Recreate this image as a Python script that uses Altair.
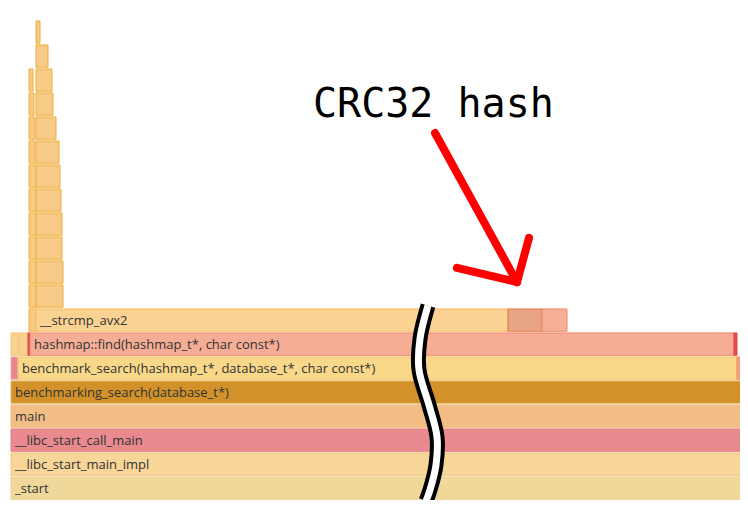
import altair as alt
import pandas as pd

# ---- flame graph frames (x in samples, depth = stack level) ----
frame_depth = [0, 1, 2, 3, 4,
               5, 5, 5,
               6, 6, 6, 6, 6,
               7, 7, 7, 7,
               8, 8, 9, 9, 10, 10, 11, 11, 12, 12, 13, 13, 14, 14, 15, 15, 16, 16, 17, 17,
               18, 19]
frame_start = [0, 0, 0, 0, 0,
               0, 70, 7260,
               0, 80, 170, 190, 7230,
               180, 250, 4970, 5310,
               180, 250, 180, 250, 180, 250, 180, 250, 180, 250, 180, 250, 180, 250, 180, 250, 180, 250, 180, 250,
               250, 250]
frame_end = [7300, 7300, 7300, 7300, 7300,
             70, 7260, 7290,
             70, 170, 190, 7230, 7260,
             250, 4970, 5310, 5560,
             250, 520, 250, 520, 250, 510, 250, 510, 250, 500, 250, 490, 240, 480, 240, 450, 230, 420, 220, 410,
             370, 290]
frame_name = ["_start", "__libc_start_main_impl", "__libc_start_call_main", "main",
              "benchmarking_search(database_t*)",
              "", "benchmark_search(hashmap_t*, database_t*, char const*)", "",
              "", "", "", "hashmap::find(hashmap_t*, char const*)", "",
              "", "__strcmp_avx2", "", "",
              "", "", "", "", "", "", "", "", "", "", "", "", "", "", "", "", "", "", "", "",
              "", ""]
UP_F, UP_S = "#f7cb87", "#f0ae3c"
frame_fill = ["#f0d89b", "#f8d598", "#e88a8e", "#f3bd86", "#d29229",
              "#e8868c", "#f9d88a", "#f3a585",
              "#f8d293", "#f8d293", "#e84b4b", "#f5ad96", "#e84b4b",
              UP_F, "#fad291", "#e9a387", "#f6ae97"] + [UP_F] * 20 + [UP_F, UP_F]
frame_stroke = ["#e9d08c", "#f4c477", "#e57c82", "#f2b47a", "#e0b860",
                "#f3a9a9", "#f2c564", "#e88c6c",
                "#f1c070", "#f1c070", "#e84040", "#ef8466", "#e84040",
                UP_S, "#f6bd66", "#e8773c", "#ee8a66"] + [UP_S] * 20 + [UP_S, UP_S]

frames = pd.DataFrame({
    "depth": frame_depth, "start": frame_start, "end": frame_end,
    "name": frame_name, "fill": frame_fill, "stroke": frame_stroke,
})

# ---- annotations ----
arrow_x = [4240, 5060, 5060]
arrow_y = [15.29, 9.08, 9.08]
arrow_x2 = [5060, 4460, 5180]
arrow_y2 = [9.08, 9.67, 10.92]
arrows = pd.DataFrame({"x": arrow_x, "y": arrow_y, "x2": arrow_x2, "y2": arrow_y2})

break_x = [4170, 4090, 4080, 4180, 4260, 4250, 4190, 4150]
break_y = [8.1, 6.72, 5.42, 3.96, 2.63, 1.46, 0.42, -0.04]
breaks = pd.DataFrame({"x": break_x, "y": break_y, "i": list(range(len(break_x)))})

note_text = ["CRC32 hash"]
note_x = [3020]
note_y = [15.96]
notes = pd.DataFrame({"x": note_x, "y": note_y, "t": note_text})

xs = alt.Scale(domain=[-30, 7290], nice=False, zero=False)
ys = alt.Scale(domain=[0, 20.5], nice=False, zero=False)

base = alt.Chart(frames).transform_calculate(
    y0="datum.depth + 0.03", y1="datum.depth + 0.96", ym="datum.depth + 0.49"
)

rects = base.mark_rect(strokeWidth=1).encode(
    x=alt.X("start:Q", scale=xs, axis=None),
    x2="end:Q",
    y=alt.Y("y0:Q", scale=ys, axis=None),
    y2="y1:Q",
    fill=alt.Fill("fill:N", scale=None),
    stroke=alt.Stroke("stroke:N", scale=None),
)

labels = base.transform_filter("datum.name != ''").mark_text(
    align="left", baseline="middle", dx=4, dy=1, font="Open Sans", fontSize=13, color="#333333"
).encode(
    x=alt.X("start:Q", scale=xs, axis=None),
    y=alt.Y("ym:Q", scale=ys, axis=None),
    text="name:N",
)

brk_black = alt.Chart(breaks).mark_line(
    interpolate="catmull-rom", color="black", strokeWidth=15
).encode(
    x=alt.X("x:Q", scale=xs, axis=None), y=alt.Y("y:Q", scale=ys, axis=None), order="i:Q"
)
brk_white = alt.Chart(breaks).mark_line(
    interpolate="catmull-rom", color="white", strokeWidth=7
).encode(
    x=alt.X("x:Q", scale=xs, axis=None), y=alt.Y("y:Q", scale=ys, axis=None), order="i:Q"
)

arrow = alt.Chart(arrows).mark_rule(color="#ff0000", strokeWidth=8, strokeCap="round").encode(
    x=alt.X("x:Q", scale=xs, axis=None), y=alt.Y("y:Q", scale=ys, axis=None),
    x2="x2:Q", y2="y2:Q",
)

note = alt.Chart(notes).mark_text(
    align="left", baseline="alphabetic", font="DejaVu Sans Mono", fontSize=40, color="black"
).encode(
    x=alt.X("x:Q", scale=xs, axis=None), y=alt.Y("y:Q", scale=ys, axis=None), text="t:N"
)

chart = alt.layer(rects, labels, brk_black, brk_white, arrow, note).properties(
    width=732, height=492, padding=0, autosize="none"
).configure_view(stroke=None)

chart.save("out.html", embed_options={"renderer": "svg", "actions": False})
